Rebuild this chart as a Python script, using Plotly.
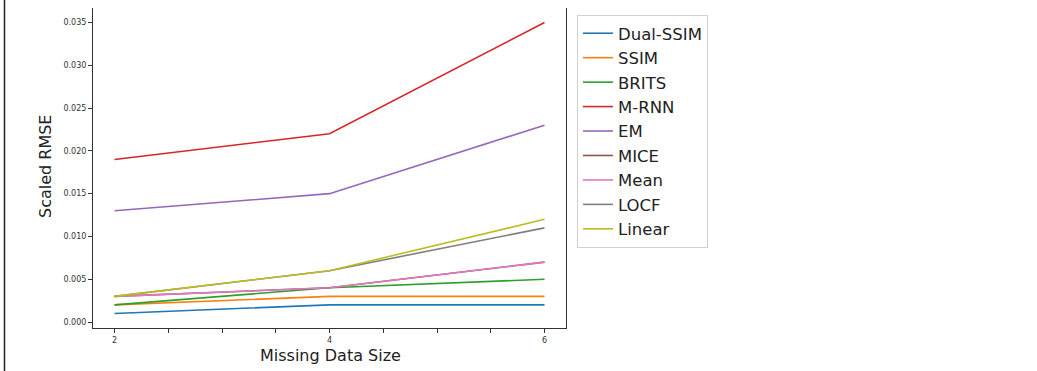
import plotly.graph_objects as go

x_sizes = [2, 4, 6]
methods = ["Dual-SSIM", "SSIM", "BRITS", "M-RNN", "EM", "MICE", "Mean", "LOCF", "Linear"]
dual_ssim = [0.001, 0.002, 0.002]
ssim = [0.002, 0.003, 0.003]
brits = [0.002, 0.004, 0.005]
mrnn = [0.019, 0.022, 0.035]
em = [0.013, 0.015, 0.023]
mice = [0.003, 0.004, 0.007]
mean = [0.003, 0.004, 0.007]
locf = [0.003, 0.006, 0.011]
linear = [0.003, 0.006, 0.012]
series = [dual_ssim, ssim, brits, mrnn, em, mice, mean, locf, linear]
colors = ["#1f77b4", "#ff7f0e", "#2ca02c", "#d62728", "#9467bd",
          "#8c564b", "#e377c2", "#7f7f7f", "#bcbd22"]

y_ticks = [0.000, 0.005, 0.010, 0.015, 0.020, 0.025, 0.030, 0.035]
x_tick_vals = [2, 2.5, 3, 3.5, 4, 4.5, 5, 5.5, 6]
x_tick_text = ["2", "", "", "", "4", "", "", "", "6"]

fig = go.Figure()
for name, vals, c in zip(methods, series, colors):
    fig.add_trace(go.Scatter(x=x_sizes, y=vals, mode="lines", name=name,
                             line=dict(color=c, width=1.6)))

W, H = 1037, 371
L, R, T, B = 93, 471, 8, 43
pw = W - L - R
ph = H - T - B
fig.update_layout(
    width=W, height=H,
    margin=dict(l=L, r=R, t=T, b=B, autoexpand=False),
    paper_bgcolor="white", plot_bgcolor="white",
    font=dict(family="DejaVu Sans", color="#222"),
    showlegend=True,
    legend=dict(x=(577 - L) / pw, y=(H - B - 15) / ph, xanchor="left", yanchor="top",
                bordercolor="#d0d0d0", borderwidth=1,
                font=dict(size=16.5, family="DejaVu Sans", color="#222"),
                tracegroupgap=0, itemwidth=30, entrywidth=146, entrywidthmode="pixels"),
    xaxis=dict(range=[1.8, 6.2], tickvals=x_tick_vals, ticktext=x_tick_text,
               ticks="outside", ticklen=4, tickcolor="#333", automargin=False,
               showline=True, linecolor="#333", linewidth=1, mirror=False,
               showgrid=False, zeroline=False,
               tickfont=dict(size=8, color="#333")),
    yaxis=dict(range=[-0.0007, 0.0367], tickvals=y_ticks,
               ticktext=["%.3f" % v for v in y_ticks],
               ticks="outside", ticklen=4, tickcolor="#333", automargin=False,
               showline=True, linecolor="#333", linewidth=1, mirror=True,
               showgrid=False, zeroline=False,
               tickfont=dict(size=8, color="#333")),
)
fig.add_annotation(text="Missing Data Size", xref="paper", yref="paper",
                   x=(330 - L) / pw, y=(H - B - 355) / ph, xanchor="center", yanchor="middle",
                   showarrow=False, font=dict(size=16, color="#222"))
fig.add_annotation(text="Scaled RMSE", xref="paper", yref="paper",
                   x=(45 - L) / pw, y=(H - B - 167) / ph, xanchor="center", yanchor="middle",
                   textangle=-90, showarrow=False, font=dict(size=16, color="#222"))
fig.add_shape(type="line", xref="paper", yref="paper",
              x0=(4.5 - L) / pw, x1=(4.5 - L) / pw,
              y0=(-B) / ph, y1=(H - B) / ph,
              line=dict(color="#222", width=1.5))
fig.write_html("out.html", config={"displayModeBar": False},
               post_script="document.body.style.margin='0px';document.body.style.overflow='hidden';")
